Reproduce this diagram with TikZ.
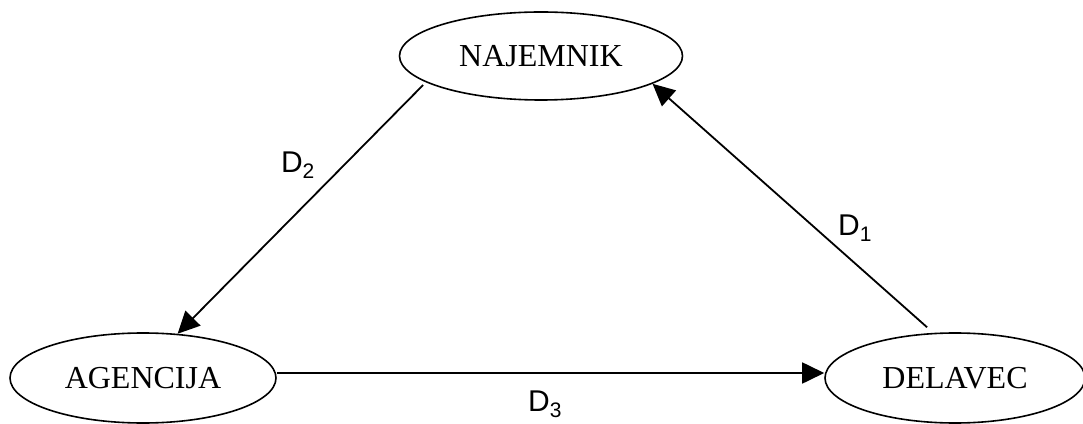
\documentclass[tikz,border=0pt]{standalone}
\usepackage{fontspec}
\setmainfont{Liberation Serif}
\newfontfamily\labelfont{Liberation Sans}
\usetikzlibrary{arrows.meta,shapes.geometric}

\begin{document}
\begin{tikzpicture}[x=1pt,y=1pt,
  party/.style={ellipse,draw,line width=1.6pt,inner sep=0pt,minimum height=90,font=\fontsize{32}{36}\selectfont},
  arrow/.style={-{Triangle[length=22pt,width=21pt]},line width=1.8pt},
  dlabel/.style={font=\labelfont\fontsize{30}{34}\selectfont}
]
\useasboundingbox (0,0) rectangle (1083,423);
\node[party,minimum width=283,minimum height=88] (najemnik) at (541,367) {NAJEMNIK};
\node[party,minimum width=266] (agencija) at (143,45) {AGENCIJA};
\node[party,minimum width=260] (delavec) at (955,45) {DELAVEC};
% contracts between the three parties
\draw[arrow] ([yshift=-4pt]najemnik.192) -- (agencija.52);
\draw[arrow] ([yshift=6pt]delavec.122) -- (najemnik.346);
\draw[arrow] ([yshift=5pt]agencija.east) -- ([yshift=5pt]delavec.west);
\node[dlabel] (d2) at (298,258) {D\textsubscript{2}};
\node[dlabel] (d1) at (855,195) {D\textsubscript{1}};
\node[dlabel] (d3) at (545,19) {D\textsubscript{3}};
\end{tikzpicture}
\end{document}
